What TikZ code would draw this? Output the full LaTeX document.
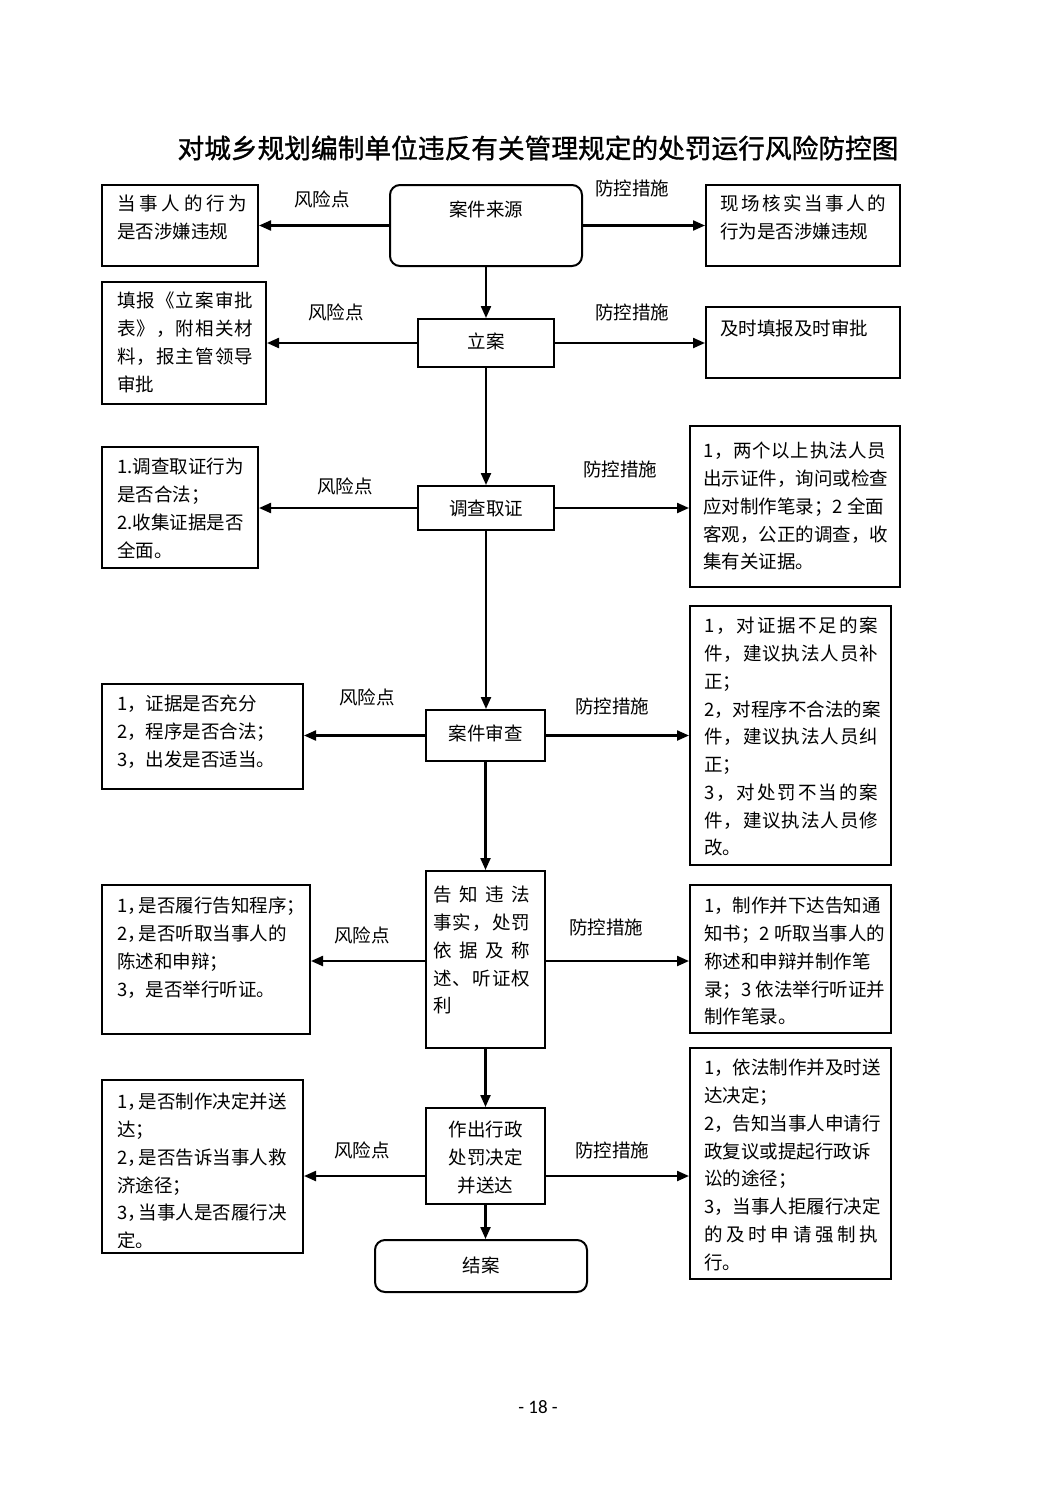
\documentclass[tikz,border=0pt]{standalone}
\usepackage{fontspec}
\setmainfont{Noto Sans CJK SC}
\newfontfamily\titlefont[FakeBold=1.2]{Noto Sans CJK SC}
\newfontfamily\pgnum{Carlito}
\usetikzlibrary{arrows.meta}
\def\spr#1{#1\futurelet\sprnx\sprnext}
\def\sprnext{\ifx\sprnx\relax\expandafter\sprstop\else\hfil\expandafter\spr\fi}
\def\sprstop\relax{}
\newcommand\jl[2]{\hbox to #1pt{\spr#2\relax}}
\newcommand\hw[1]{{\addfontfeature{RawFeature=+halt}#1}\kern2pt}
\tikzset{
 bx/.style={draw, line width=2pt, inner sep=0pt},
 rbx/.style={bx, rounded corners=10pt},
 ar/.style={line width=2.2pt, -{Triangle[length=12pt,width=10pt]}},
 tx/.style={inner sep=0pt, align=left, anchor=north west, yshift=18pt,
   execute at begin node={\rule{0pt}{18pt}}, font=\fontsize{18.5}{27.75}\selectfont},
 ctx/.style={inner sep=0pt, align=center, anchor=north, yshift=18pt,
   execute at begin node={\rule{0pt}{18pt}}, font=\fontsize{18.5}{27.75}\selectfont},
 lb/.style={inner sep=0pt, font=\fontsize{18.5}{22}\selectfont},
}
\begin{document}
\begin{tikzpicture}[x=1pt,y=-1pt]
\useasboundingbox (0,0) rectangle (1063,1502);
\node[font=\titlefont\fontsize{26.7}{30}\selectfont] (title) at (538,148) {对城乡规划编制单位违反有关管理规定的处罚运行风险防控图};

% center column
\node[rbx, minimum width=192pt, minimum height=81pt] (C1) at (486,225.5) {};
\node[bx, minimum width=136pt, minimum height=48pt] (C2) at (486,343) {};
\node[bx, minimum width=136pt, minimum height=44pt] (C3) at (486,508) {};
\node[bx, minimum width=119pt, minimum height=51pt] (C4) at (485.5,735.5) {};
\node[bx, minimum width=119pt, minimum height=177pt] (C5) at (485.5,959.5) {};
\node[bx, minimum width=119pt, minimum height=96pt] (C6) at (485.5,1156) {};
\node[rbx, minimum width=212pt, minimum height=52pt] (C7) at (481,1266) {};

% left column
\node[bx, minimum width=156pt, minimum height=81pt] (L1) at (180,225.5) {};
\node[bx, minimum width=164pt, minimum height=122pt] (L2) at (184,343) {};
\node[bx, minimum width=156pt, minimum height=121pt] (L3) at (180,507.5) {};
\node[bx, minimum width=201pt, minimum height=105pt] (L4) at (202.5,736.5) {};
\node[bx, minimum width=208pt, minimum height=149pt] (L5) at (206,959.5) {};
\node[bx, minimum width=201pt, minimum height=173pt] (L6) at (202.5,1166.5) {};

% right column
\node[bx, minimum width=194pt, minimum height=81pt] (R1) at (803,225.5) {};
\node[bx, minimum width=194pt, minimum height=71pt] (R2) at (803,342.5) {};
\node[bx, minimum width=210pt, minimum height=161pt] (R3) at (795,506.5) {};
\node[bx, minimum width=201pt, minimum height=259pt] (R4) at (790.5,735.5) {};
\node[bx, minimum width=201pt, minimum height=148pt] (R5) at (790.5,959) {};
\node[bx, minimum width=201pt, minimum height=231pt] (R6) at (790.5,1163.5) {};

% center texts
\node[ctx] (tc1) at (486,216) {案件来源};
\node[ctx] (tc2) at (486,348) {立案};
\node[ctx] (tc3) at (486,515) {调查取证};
\node[ctx] (tc4) at (485.5,740) {案件审查};
\node[tx] (tc5) at (433,904) {\jl{97}{告知违法}\\\jl{97}{事实，处罚}\\\jl{97}{依据及称}\\\jl{97}{述、听证权}\\利};
\node[ctx] (tc6) at (485.5,1139) {作出行政\\处罚决定\\并送达};
\node[ctx] (tc7) at (481,1272) {结案};

% left texts
\node[tx] (tl1) at (117,213) {\jl{130}{当事人的行为}\\是否涉嫌违规};
\node[tx] (tl2) at (117,310) {\jl{136}{填报《立案审批}\\\jl{136}{表》，附相关材}\\\jl{136}{料，报主管领导}\\审批};
\node[tx] (tl3) at (117,476) {1.调查取证行为\\是否合法；\\2.收集证据是否\\全面。};
\node[tx] (tl4) at (117,713) {1，证据是否充分\\2，程序是否合法；\\3，出发是否适当。};
\node[tx] (tl5) at (117,915) {1\hw{，}是否履行告知程序\hw{；}\\2\hw{，}是否听取当事人的\\陈述和申辩；\\3，是否举行听证。};
\begin{scope}
\clip (L6.north west) rectangle ([yshift=7pt]L6.south east);
\node[tx] (tl6) at (117,1111) {1\hw{，}是否制作决定并送\\达；\\2\hw{，}是否告诉当事人救\\济途径；\\3\hw{，}当事人是否履行决\\定。};
\end{scope}

% right texts
\node[tx] (tr1) at (720,213) {\jl{166}{现场核实当事人的}\\行为是否涉嫌违规};
\node[tx] (tr2) at (720,335) {及时填报及时审批};
\node[tx] (tr3) at (703,460) {\jl{183}{1，两个以上执法人员}\\出示证件，询问或检查\\应对制作笔录；2 全面\\客观，公正的调查，收\\集有关证据。};
\node[tx] (tr4) at (704,635) {\jl{174}{1，对证据不足的案}\\\jl{174}{件，建议执法人员补}\\正；\\\jl{174}{2，对程序不合法的案}\\\jl{174}{件，建议执法人员纠}\\正；\\\jl{174}{3，对处罚不当的案}\\\jl{174}{件，建议执法人员修}\\改。};
\node[tx] (tr5) at (704,915) {1，制作并下达告知通\\知书；2 听取当事人的\\称述和申辩并制作笔\\录；3 依法举行听证并\\制作笔录。};
\node[tx] (tr6) at (704,1077) {1，依法制作并及时送\\达决定；\\2，告知当事人申请行\\政复议或提起行政诉\\讼的途径；\\3，当事人拒履行决定\\\jl{174}{的及时申请强制执}\\行。};

% labels
\node[lb] (f1) at (322,199) {风险点};
\node[lb] (p1) at (632,188) {防控措施};
\node[lb] (f2) at (336,312) {风险点};
\node[lb] (p2) at (632,312) {防控措施};
\node[lb] (f3) at (345,486) {风险点};
\node[lb] (p3) at (620,469) {防控措施};
\node[lb] (f4) at (367,697) {风险点};
\node[lb] (p4) at (612,706) {防控措施};
\node[lb] (f5) at (362,935) {风险点};
\node[lb] (p5) at (606,927) {防控措施};
\node[lb] (f6) at (362,1150) {风险点};
\node[lb] (p6) at (612,1150) {防控措施};

% horizontal arrows
\draw[ar] (C1.west) -- (C1.west -| L1.east);
\draw[ar] (C1.east) -- (C1.east -| R1.west);
\draw[ar] (C2.west) -- (C2.west -| L2.east);
\draw[ar] (C2.east) -- (C2.east -| R2.west);
\draw[ar] (C3.west) -- (C3.west -| L3.east);
\draw[ar] (C3.east) -- (C3.east -| R3.west);
\draw[ar] (C4.west) -- (C4.west -| L4.east);
\draw[ar] (C4.east) -- (C4.east -| R4.west);
\coordinate (a5) at (485.5,961);
\draw[ar] (a5 -| C5.west) -- (a5 -| L5.east);
\draw[ar] (a5 -| C5.east) -- (a5 -| R5.west);
\coordinate (a6) at (485.5,1176);
\draw[ar] (a6 -| C6.west) -- (a6 -| L6.east);
\draw[ar] (a6 -| C6.east) -- (a6 -| R6.west);

% vertical arrows
\draw[ar] (C1.south) -- (C1.south |- C2.north);
\draw[ar] (C2.south) -- (C2.south |- C3.north);
\draw[ar] (C3.south) -- (C3.south |- C4.north);
\draw[ar] (C4.south) -- (C4.south |- C5.north);
\draw[ar] (C5.south) -- (C5.south |- C6.north);
\draw[ar] (C6.south) -- (C6.south |- C7.north);

\node[font=\pgnum\fontsize{19}{22}\selectfont] (pg) at (538,1407) {- 18 -};
\end{tikzpicture}
\end{document}
